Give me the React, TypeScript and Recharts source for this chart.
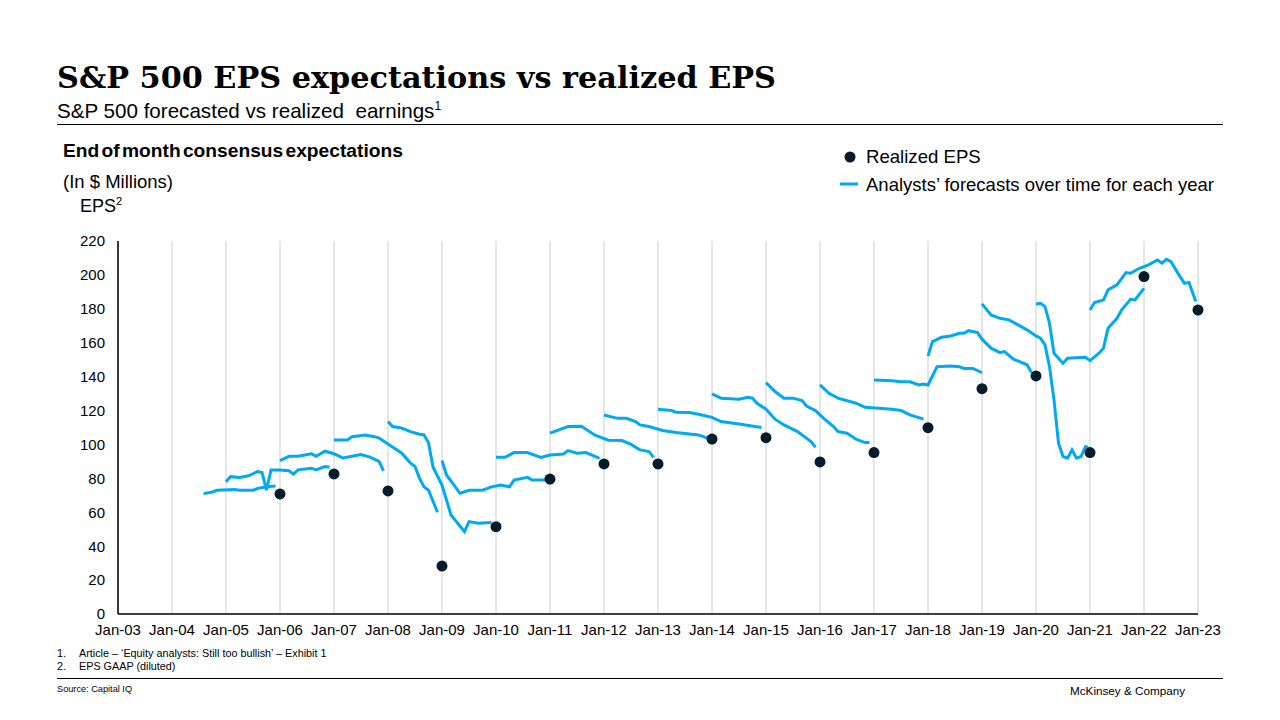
import React from "react";
import {
  ComposedChart,
  Line,
  Scatter,
  XAxis,
  YAxis,
  CartesianGrid,
} from "recharts";

// month index: 0 = Jan-03, 12 = Jan-04 ... 240 = Jan-23
const yearTicks = [0, 12, 24, 36, 48, 60, 72, 84, 96, 108, 120, 132, 144, 156, 168, 180, 192, 204, 216, 228, 240];
const epsTicks = [0, 20, 40, 60, 80, 100, 120, 140, 160, 180, 200, 220];

// realized EPS, plotted at Jan of the following year
const realizedMonths = [36, 48, 60, 72, 84, 96, 108, 120, 132, 144, 156, 168, 180, 192, 204, 216, 228, 240];
const realizedValues = [70.8, 82.6, 72.6, 28.3, 51.5, 79.6, 88.5, 88.5, 103.2, 104, 89.7, 95.2, 109.9, 132.9, 140.4, 95.2, 199, 179.3];

// analysts' forecasts for each year: [month, eps]
const fc2005 = [[19, 71], [21, 72], [22, 73], [26, 73.5], [27, 73], [30, 73], [31, 74], [33, 75], [35, 75.5]];
const fc2006 = [[24, 78], [25, 81], [27, 80.5], [29, 81.5], [31, 84], [32, 83.5], [33, 73], [34, 85], [36, 85], [38, 84.5], [39, 82.5], [40, 85], [43, 86], [44, 85], [46, 87], [47, 86.5]];
const fc2007 = [[36, 90.5], [38, 93], [40, 93], [43, 94.5], [44, 93], [46, 96], [48, 94.5], [50, 92], [52, 93], [54, 94], [56, 92.5], [58, 90], [59, 84.5]];
const fc2008 = [[48, 102.7], [51, 102.7], [52, 104.6], [55, 105.6], [57, 104.6], [58, 103.8], [60, 100.3], [63, 95], [65, 89], [66, 87], [67, 80], [68, 75], [69, 73], [71, 60]];
const fc2009 = [[60, 113.5], [61, 110.6], [63, 109.7], [65, 107.6], [67, 106], [68, 105.6], [69, 101], [70, 86.7], [72, 76], [74, 58.4], [77, 48.6], [78, 54.5], [80, 53.6], [83, 54]];
const fc2010 = [[72, 90.5], [73, 82], [76, 71.2], [78, 73], [81, 73], [83, 75], [85, 76], [87, 75], [88, 79], [91, 80.6], [92, 79], [95, 79]];
const fc2011 = [[84, 92.4], [86, 92.4], [88, 95.2], [91, 95.2], [94, 92.4], [96, 93.8], [99, 94.4], [100, 96.4], [102, 94.8], [104, 95.2], [107, 91.8]];
const fc2012 = [[96, 106.7], [100, 110.6], [103, 110.8], [106, 105.5], [109, 102.5], [112, 102.3], [114, 100], [116, 96.8], [118, 95.8], [119, 92.4]];
const fc2013 = [[108, 117.4], [111, 115.4], [113, 115.4], [115, 113.5], [116, 111.5], [118, 110.6], [121, 108.2], [124, 107], [127, 106.2], [129, 105.6], [131, 103.7]];
const fc2014 = [[120, 120.8], [123, 120], [124, 119], [127, 118.8], [129, 117.8], [132, 116], [134, 113.5], [138, 112.1], [143, 110]];
const fc2015 = [[132, 129.8], [134, 127.3], [138, 126.7], [140, 127.8], [141, 127.3], [142, 124.3], [144, 120.8], [146, 114.9], [148, 111.5], [151, 107.6], [154, 101.7], [155, 98.3]];
const fc2016 = [[144, 136.5], [146, 131.2], [148, 127.3], [150, 127.3], [152, 125.9], [153, 122.7], [155, 120], [157, 114.9], [159, 110.6], [160, 107.6], [162, 106.6], [164, 103.1], [166, 101.1], [167, 101.1]];
const fc2017 = [[156, 135.1], [158, 130.2], [160, 127.3], [164, 124.3], [166, 121.9], [169, 121.4], [172, 120.8], [174, 120], [176, 117.4], [179, 114.9]];
const fc2018 = [[168, 138], [172, 137.6], [174, 137], [176, 137], [178, 135.1], [179, 135.7], [180, 135.1], [182, 145.8], [185, 146.3], [187, 145.8], [188, 144.8], [190, 144.8], [192, 142.3]];
const fc2019 = [[180, 152.2], [181, 160.7], [183, 163.2], [185, 164], [187, 165.6], [188, 165.6], [189, 167.1], [191, 166], [192, 162.1], [194, 156.8], [196, 154.2], [197, 154.8], [199, 150.3], [202, 147], [203, 142.5]];
const fc2020 = [[192, 182.9], [194, 176.4], [196, 174.4], [198, 173.5], [200, 170.5], [202, 167.6], [204, 164], [205, 162.7], [206, 158.7], [207, 145.9], [208, 126.3], [209, 100.7], [210, 92.9], [211, 91.9], [212, 96.8], [213, 91.9], [214, 92.9], [215, 98.8], [215.6, 98.3]];
const fc2021 = [[204, 182.9], [205, 183.2], [206, 181.3], [207, 171.5], [208, 153.8], [210, 147.9], [211, 150.8], [215, 151.4], [216, 149.4], [218, 153.8], [219, 156.8], [220, 168.5], [222, 174.4], [223, 179.3], [225, 185.6], [226, 185.2], [228, 192.1]];
const fc2022 = [[216, 179.3], [217, 183.7], [219, 185.2], [220, 191.2], [222, 194.1], [224, 201.4], [225, 201], [227, 203.9], [229, 205.9], [231, 208.8], [232, 206.9], [233, 209.2], [234, 207.8], [236, 199], [237, 195], [238, 195.5], [239.5, 184.3]];

const forecasts = [fc2005, fc2006, fc2007, fc2008, fc2009, fc2010, fc2011, fc2012, fc2013, fc2014, fc2015, fc2016, fc2017, fc2018, fc2019, fc2020, fc2021, fc2022];

const BLUE = "#00A9F4";
const NAVY = "#051C2C";
const SANS = "'Liberation Sans', Arial, sans-serif";

const realized = realizedMonths.map((m, i) => ({ m, v: realizedValues[i] }));
const toRows = (pts: number[][]) => pts.map(([m, v]) => ({ m, v }));

const yearLabel = (m: number) => {
  const yr = 3 + m / 12;
  return "Jan-" + String(yr).padStart(2, "0");
};

const Dot = (props: any) => {
  const { cx, cy } = props;
  if (cx == null || cy == null) return null;
  return <circle cx={cx} cy={cy} r={5.5} fill={NAVY} />;
};

export default function App() {
  return (
    <div style={{ position: "absolute", left: 0, top: 0, width: 1280, height: 720, background: "#fff" }}>
      <div style={{ position: "absolute", left: 0, top: 200 }}>
        <ComposedChart
          width={1280}
          height={460}
          margin={{ top: 41, right: 82, bottom: 16, left: 58 }}
        >
          <CartesianGrid horizontal={false} stroke="#cccccc" strokeWidth={1} />
          <XAxis
            type="number"
            dataKey="m"
            domain={[0, 240]}
            ticks={yearTicks}
            tickFormatter={yearLabel}
            interval={0}
            height={30}
            axisLine={{ stroke: "#000", strokeWidth: 1.5 }}
            tickLine={false}
            tickMargin={4}
            tick={{ fill: "#000", fontSize: 15, fontFamily: SANS }}
          />
          <YAxis
            type="number"
            domain={[0, 220]}
            ticks={epsTicks}
            interval={0}
            width={60}
            axisLine={{ stroke: "#000", strokeWidth: 1.5 }}
            tickLine={false}
            tickMargin={7}
            tick={{ fill: "#000", fontSize: 15, fontFamily: SANS }}
          />
          {forecasts.map((pts, i) => (
            <Line
              key={i}
              data={toRows(pts)}
              dataKey="v"
              type="linear"
              stroke={BLUE}
              strokeWidth={3}
              dot={false}
              activeDot={false}
              isAnimationActive={false}
            />
          ))}
          <Scatter data={realized} dataKey="v" shape={Dot} isAnimationActive={false} />
        </ComposedChart>
      </div>

      <svg width={1280} height={720} style={{ position: "absolute", left: 0, top: 0, pointerEvents: "none" }}>
        <text x={57} y={88} fontFamily="'DejaVu Serif', Georgia, serif" fontWeight="bold" fontSize={30.3} fill="#000">
          S&amp;P 500 EPS expectations vs realized EPS
        </text>
        <text x={57} y={118} fontFamily={SANS} fontSize={20.6} fill="#000">
          S&amp;P 500 forecasted vs realized{"\u00a0 "}earnings
          <tspan fontSize={12} dy={-8}>1</tspan>
        </text>
        <line x1={57} x2={1223} y1={124.5} y2={124.5} stroke="#000" strokeWidth={1.2} />

        <text x={63} y={157} fontFamily={SANS} fontWeight="bold" fontSize={19.2} wordSpacing={-3} fill="#000">
          End of month consensus expectations
        </text>
        <text x={63} y={188} fontFamily={SANS} fontSize={18.5} fill="#000">
          (In $ Millions)
        </text>
        <text x={80} y={212} fontFamily={SANS} fontSize={18} fill="#000">
          EPS<tspan fontSize={11} dy={-7}>2</tspan>
        </text>

        <circle cx={850} cy={157} r={5.5} fill={NAVY} />
        <text x={866} y={163} fontFamily={SANS} fontSize={18.6} fill="#000">
          Realized EPS
        </text>
        <line x1={840} x2={858} y1={184} y2={184} stroke={BLUE} strokeWidth={3} />
        <text x={866} y={191} fontFamily={SANS} fontSize={18.5} fill="#000">
          Analysts’ forecasts over time for each year
        </text>

        <text x={57} y={657} fontFamily={SANS} fontSize={10.8} fill="#000">1.</text>
        <text x={79} y={657} fontFamily={SANS} fontSize={10.8} fill="#000">
          Article – ‘Equity analysts: Still too bullish’ – Exhibit 1
        </text>
        <text x={57} y={670} fontFamily={SANS} fontSize={10.8} fill="#000">2.</text>
        <text x={79} y={670} fontFamily={SANS} fontSize={10.8} fill="#000">
          EPS GAAP (diluted)
        </text>
        <line x1={57} x2={1223} y1={678.5} y2={678.5} stroke="#000" strokeWidth={1.2} />
        <text x={57} y={692} fontFamily={SANS} fontSize={9.2} fill="#000">
          Source: Capital IQ
        </text>
        <text x={1070} y={695} fontFamily={SANS} fontSize={11.7} fill="#000">
          McKinsey &amp; Company
        </text>
      </svg>
    </div>
  );
}
